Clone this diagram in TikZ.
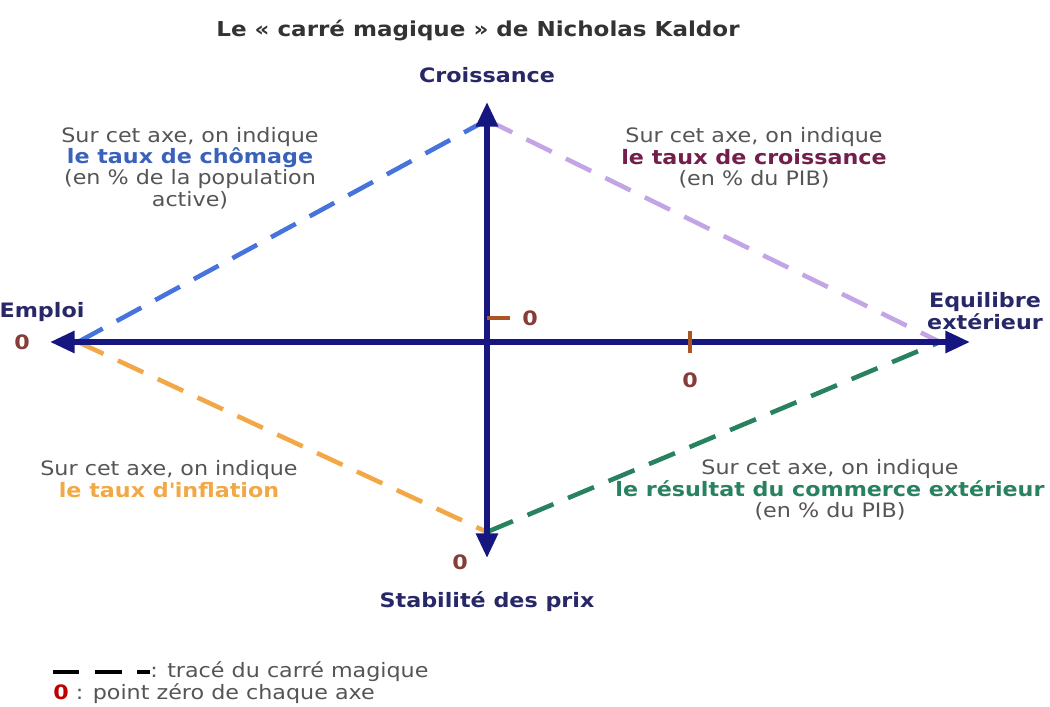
\documentclass[tikz,border=0pt]{standalone}
\usepackage{fontspec}
\setmainfont{DejaVu Sans}[FakeStretch=1.12]
\usetikzlibrary{arrows.meta}

\definecolor{axebleu}{RGB}{22,22,128}
\definecolor{etiquette}{RGB}{40,40,105}
\definecolor{gristexte}{RGB}{85,85,85}
\definecolor{chomage}{RGB}{70,115,220}
\definecolor{croissance}{RGB}{195,165,230}
\definecolor{croissancetxt}{RGB}{115,30,75}
\definecolor{inflation}{RGB}{242,168,70}
\definecolor{commerce}{RGB}{40,130,95}
\definecolor{zero}{RGB}{135,60,55}
\definecolor{trait}{RGB}{170,85,35}

\begin{document}
\begin{tikzpicture}[x=0.02cm, y=-0.02cm]
  \def\taille{\fontsize{11.3}{12.2}\selectfont}
  \tikzset{
    axe/.style={line width=3.2pt, draw=axebleu, {Triangle[length=14pt, width=12pt]}-{Triangle[length=14pt, width=12pt]}},
    carre/.style={line width=2.6pt, dash pattern=on 16pt off 9pt},
    graduation/.style={line width=2pt, draw=trait},
    titre/.style={font=\bfseries\taille, text=etiquette, align=center},
    texte/.style={font=\taille, text=gristexte, align=center},
    zerolbl/.style={font=\bfseries\taille, text=zero}
  }
  \useasboundingbox (0,0) rectangle (1050,706);

  \node[titre, text=black!80, font=\bfseries\fontsize{11.7}{13}\selectfont] (titre) at (478,30) {Le « carré magique » de Nicholas Kaldor};

  % extremites des axes
  \coordinate (ouest) at (50,342);
  \coordinate (est) at (970,342);
  \coordinate (nord) at (487,102);
  \coordinate (sud) at (487,558);

  % sommets du carre
  \coordinate (emploi) at (78,342);
  \coordinate (croiss) at (487,120);
  \coordinate (equil) at (940,342);
  \coordinate (stab) at (487,532);

  \draw[carre, chomage] (emploi) -- (croiss);
  \draw[carre, croissance] (croiss) -- (equil);
  \draw[carre, inflation] (emploi) -- (stab);
  \draw[carre, commerce] (stab) -- (equil);

  \draw[axe] (ouest) -- (est);
  \draw[axe] (sud) -- (nord);

  % points zero
  \coordinate (gv) at (487,318);
  \coordinate (gh) at (690,342);
  \draw[graduation] (gv) -- ++(23,0);
  \draw[graduation] (gh) ++(0,-11) -- ++(0,22);
  \node[zerolbl] (z1) at (22,342) {0};
  \node[zerolbl] (z2) at (530,318) {0};
  \node[zerolbl] (z3) at (690,380) {0};
  \node[zerolbl] (z4) at (460,562) {0};

  % noms des axes
  \node[titre] (lcroiss) at (487,75) {Croissance};
  \node[titre] (lemploi) at (42,312) {Emploi};
  \node[titre] (lequil) at (985,311) {Equilibre\\extérieur};
  \node[titre] (lstab) at (487,602) {Stabilité des prix};

  % commentaires
  \node[texte] (tchom) at (190,168) {Sur cet axe, on indique\\
    \textbf{\color{chomage!85!black}le taux de chômage}\\(en \% de la population\\active)};
  \node[texte] (tcroiss) at (754,158) {Sur cet axe, on indique\\
    \textbf{\color{croissancetxt}le taux de croissance}\\(en \% du PIB)};
  \node[texte] (tinfl) at (169,479) {Sur cet axe, on indique\\
    \textbf{\color{inflation}le taux d\textquotesingle inflation}};
  \node[texte] (tcomm) at (830,490) {Sur cet axe, on indique\\
    \textbf{\color{commerce}le résultat du commerce extérieur}\\(en \% du PIB)};

  % legende
  \coordinate (leg) at (53,672);
  \draw[line width=2.6pt, dash pattern=on 15pt off 9pt] (leg) -- ++(97,0) coordinate (legfin);
  \node[texte, anchor=west, inner sep=0pt] (legtrace) at (legfin) {: tracé du carré magique};
  \node[texte, anchor=west, inner sep=0pt] (legzero) at (53,694) {{\color{red!75!black}\bfseries 0} : point zéro de chaque axe};
\end{tikzpicture}
\end{document}
